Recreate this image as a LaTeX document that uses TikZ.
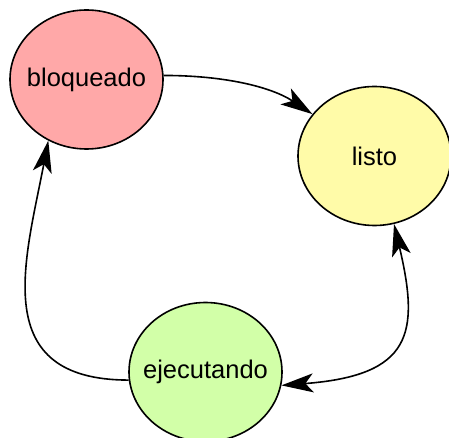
\documentclass[tikz,border=0pt]{standalone}
\usepackage{fontspec}
\setmainfont{Liberation Sans}
\usepackage{tikz}
\usetikzlibrary{shapes.geometric}
\usetikzlibrary{arrows.meta}

\definecolor{blockred}{HTML}{FFA8A8}
\definecolor{readyyellow}{HTML}{FFFBA8}
\definecolor{rungreen}{HTML}{D2FFA8}

\tikzset{
    state/.style={ellipse, draw=black, line width=1.6pt, inner sep=-20pt,
        minimum width=153pt, minimum height=139pt,
        font=\fontsize{25.5}{30}\selectfont},
    trans/.style={line width=1.6pt, -{Stealth[length=32pt, width=19pt, inset=8pt]}}
}

\begin{document}
\begin{tikzpicture}[x=1pt, y=-1pt]
        \useasboundingbox (0, 0) rectangle (449, 438);

        % The states
        \node[state, fill=blockred] (bloq) at (86.5, 79.5) {bloqueado};
        \node[state, fill=readyyellow] (listo) at (374.5, 156) {listo};
        \node[state, fill=rungreen] (ejec) at (205.5, 372) {ejecutando};

        % The transitions
        \draw[trans] (bloq.3.4) .. controls +(60, 0) and +(-41.5, -27.5) .. (listo.146.4);
        \draw[trans] (ejec.186) .. controls +(-141, 0) and +(-23, 120) .. (bloq.238.4);
        \draw[trans, {Stealth[length=32pt, width=19pt, inset=8pt]}-{Stealth[length=32pt, width=19pt, inset=8pt]}]
            (ejec.350.4) .. controls +(130, -10) and +(26, 110) .. (listo.286.5);
    \end{tikzpicture}
\end{document}
